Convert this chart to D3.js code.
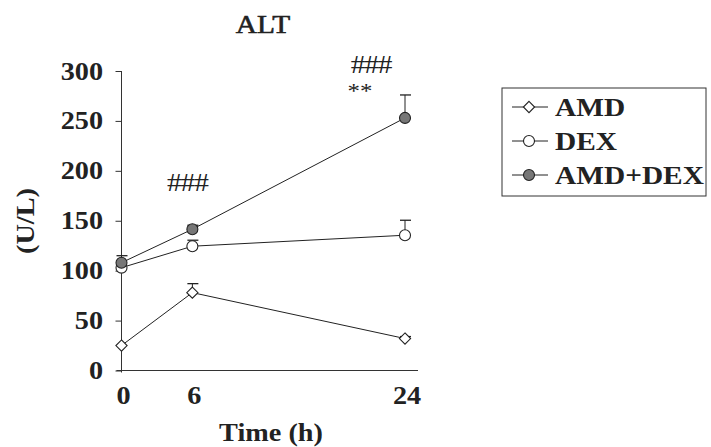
<!DOCTYPE html>
<html><head><meta charset="utf-8">
<script src="https://cdn.jsdelivr.net/npm/d3@7"></script>
<style>body{margin:0;background:#fff}svg{display:block}text{font-family:"Liberation Serif","Times New Roman",serif;fill:#222}</style>
</head><body><svg id="c" width="711" height="447"></svg>
<script>
const times = [0, 6, 24];
const xTickLabels = ["0", "6", "24"];
const yTicks = [0, 50, 100, 150, 200, 250, 300];
const seriesNames = ["AMD", "DEX", "AMD+DEX"];
const amdValues = [25, 78, 32];
const amdErrors = [0, 9, 2];
const dexValues = [103, 124.5, 135.5];
const dexErrors = [0, 6, 15];
const comboValues = [108, 141.5, 253];
const comboErrors = [7, 4, 23];
const annotations = [{t: 6, v: 180, text: "###", dx: -5}, {t: 24, v: 298, text: "###", dx: -34}, {t: 24, v: 273, text: "**", dx: -45}];

const svg = d3.select("#c");
const x = d3.scaleLinear().domain([0, 24]).range([121.5, 405]);
const y = d3.scaleLinear().domain([0, 300]).range([370.5, 71]);
const SX = 1.13;

function txt(g, px, py, s, size, weight, anchor, rot) {
  const t = g.append("g").attr("transform", `translate(${px},${py})` + (rot ? ` rotate(${rot})` : "") + ` scale(${SX},1)`)
    .append("text").attr("font-size", size).attr("font-weight", weight).attr("text-anchor", anchor).text(s);
  return t;
}

// axes
const yAxis = svg.append("g").attr("transform", `translate(${x(0)},0)`)
  .call(d3.axisLeft(y).tickValues(yTicks).tickSize(6).tickFormat(""));
yAxis.select(".domain").attr("d", `M0,${y(300)}V${y(0) + 2}`).attr("stroke", "#333");
yAxis.selectAll(".tick line").attr("stroke", "#333");
const xAxis = svg.append("g").attr("transform", `translate(0,${y(0)})`)
  .call(d3.axisBottom(x).tickValues(times).tickSize(0).tickFormat(""));
xAxis.select(".domain").attr("d", `M${x(0) - 5},0H${x(24) + 13}`).attr("stroke", "#333");

yTicks.forEach(v => txt(svg, 103, y(v) + 8.5, String(v), 25, "bold", "end"));
times.forEach((t, i) => txt(svg, x(t) + 2, 404, xTickLabels[i], 25, "bold", "middle"));
txt(svg, 271, 441, "Time (h)", 25, "bold", "middle");
txt(svg, 34, 221, "(U/L)", 25, "bold", "middle", -90);
txt(svg, 263, 33, "ALT", 26, "normal", "middle").attr("stroke", "#222").attr("stroke-width", 0.6);

const series = [
  {vals: amdValues, errs: amdErrors, shape: "diamond", fill: "#fff"},
  {vals: dexValues, errs: dexErrors, shape: "circle", fill: "#fff"},
  {vals: comboValues, errs: comboErrors, shape: "circle", fill: "#777"}
];
const line = d3.line().x((d, i) => x(times[i])).y(d => y(d));
const diamond = d3.symbol().type(d3.symbolDiamond2).size(80);

function marker(g, shape, fill, cx, cy) {
  if (shape === "circle") g.append("circle").attr("cx", cx).attr("cy", cy).attr("r", 5.5).attr("fill", fill).attr("stroke", "#222").attr("stroke-width", 1.1);
  else g.append("path").attr("d", diamond()).attr("transform", `translate(${cx},${cy})`).attr("fill", fill).attr("stroke", "#222").attr("stroke-width", 1.1);
}

series.forEach(s => {
  const g = svg.append("g");
  s.vals.forEach((v, i) => {
    if (s.errs[i] > 0) {
      g.append("line").attr("x1", x(times[i])).attr("x2", x(times[i])).attr("y1", y(v)).attr("y2", y(v + s.errs[i])).attr("stroke", "#222");
      g.append("line").attr("x1", x(times[i]) - 5).attr("x2", x(times[i]) + 6).attr("y1", y(v + s.errs[i])).attr("y2", y(v + s.errs[i])).attr("stroke", "#222").attr("stroke-width", 1.3);
    }
  });
  g.append("path").datum(s.vals).attr("d", line).attr("fill", "none").attr("stroke", "#222").attr("stroke-width", 1);
  s.vals.forEach((v, i) => marker(g, s.shape, s.fill, x(times[i]), y(v)));
});

annotations.forEach(a => {
  const t = txt(svg, x(a.t) + a.dx, y(a.v), a.text, a.text === "**" ? 22 : 26, "normal", "middle");
  if (a.text !== "**") t.attr("letter-spacing", -1);
});

// legend
const lg = svg.append("g");
lg.append("rect").attr("x", 502).attr("y", 88).attr("width", 204).attr("height", 108).attr("fill", "#fff").attr("stroke", "#333").attr("stroke-width", 1);
const legY = [107, 141, 175];
series.forEach((s, i) => {
  lg.append("line").attr("x1", 512).attr("x2", 548).attr("y1", legY[i]).attr("y2", legY[i]).attr("stroke", "#222");
  marker(lg, s.shape, s.fill, 529, legY[i]);
  txt(lg, 555, legY[i] + 9, seriesNames[i], 26, "bold", "start");
});
</script></body></html>
